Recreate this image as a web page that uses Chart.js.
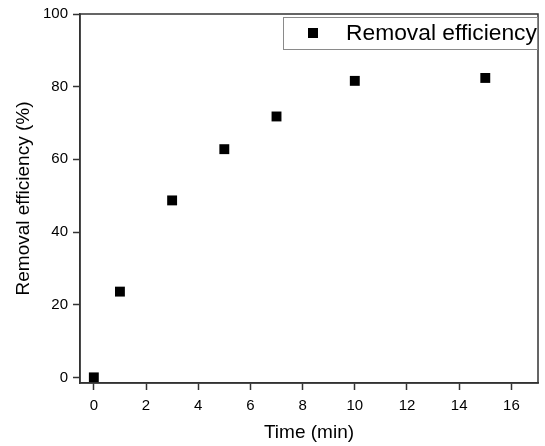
<!DOCTYPE html>
<html>
<head>
<meta charset="utf-8">
<script src="https://cdn.jsdelivr.net/npm/chart.js@4/dist/chart.umd.min.js"></script>
<style>
  html, body { margin: 0; padding: 0; background: #fff; }
  #wrap { width: 545px; height: 446px; }
</style>
</head>
<body>
<div id="wrap"><canvas id="removalChart" width="545" height="446"></canvas></div>
<script>
// 除去率 vs 時間
var timeMin = [0, 1, 3, 5, 7, 10, 15];
var removalPct = [0, 23.6, 48.7, 62.8, 71.8, 81.6, 82.4];
var xTicks = [0, 2, 4, 6, 8, 10, 12, 14, 16];
var yTicks = [0, 20, 40, 60, 80, 100];
var seriesName = "Removal efficiency";

var points = timeMin.map(function (t, i) {
  return { x: t, y: removalPct[i] };
});

var axisColor = "#333333";
var fontFam = "'Liberation Sans', Arial, sans-serif";

// frame + legend box drawn on top of the chart area
var framePlugin = {
  id: "frame",
  afterDraw: function (chart) {
    var a = chart.chartArea;
    var c = chart.ctx;
    c.save();
    c.strokeStyle = axisColor;
    c.lineWidth = 1.5;
    c.strokeRect(a.left, a.top, a.right - a.left, a.bottom - a.top);

    // legend
    c.strokeStyle = "#8a8a8a";
    c.lineWidth = 1;
    c.strokeRect(283.5, 17.5, 254, 32);
    c.fillStyle = "#000";
    c.fillRect(308, 28, 10, 10);
    c.font = "22.8px " + fontFam;
    c.textBaseline = "middle";
    c.fillText(seriesName, 346, 34);
    c.restore();
  }
};

var ctx = document.getElementById("removalChart").getContext("2d");
var removalChart = new Chart(ctx, {
  type: "scatter",
  data: {
    datasets: [
      {
        label: seriesName,
        data: points,
        pointStyle: "rect",
        pointRadius: 7,
        pointHoverRadius: 7,
        backgroundColor: "#000",
        borderColor: "#000",
        borderWidth: 0
      }
    ]
  },
  options: {
    responsive: false,
    animation: false,
    layout: { padding: { top: 13, right: 2, left: 0, bottom: 0 } },
    plugins: {
      legend: { display: false },
      tooltip: { enabled: false }
    },
    scales: {
      x: {
        type: "linear",
        min: -0.53,
        max: 17.02,
        afterBuildTicks: function (axis) {
          axis.ticks = xTicks.map(function (v) { return { value: v }; });
        },
        afterFit: function (axis) { axis.height = 63; },
        grid: {
          drawOnChartArea: false,
          drawTicks: true,
          tickLength: 7,
          tickWidth: 1.5,
          color: axisColor
        },
        border: { display: true, color: axisColor, width: 1.5 },
        ticks: {
          color: "#000",
          font: { family: fontFam, size: 15 },
          padding: 7,
          maxRotation: 0
        },
        title: {
          display: true,
          text: "Time (min)",
          color: "#000",
          font: { family: fontFam, size: 19 },
          padding: { top: 0, bottom: 2 }
        }
      },
      y: {
        type: "linear",
        min: -1.55,
        max: 100,
        afterBuildTicks: function (axis) {
          axis.ticks = yTicks.map(function (v) { return { value: v }; });
        },
        afterFit: function (axis) { axis.width = 80; },
        grid: {
          drawOnChartArea: false,
          drawTicks: true,
          tickLength: 7,
          tickWidth: 1.5,
          color: axisColor
        },
        border: { display: true, color: axisColor, width: 1.5 },
        ticks: {
          color: "#000",
          font: { family: fontFam, size: 15 },
          padding: 5
        },
        title: {
          display: true,
          text: "Removal efficiency (%)",
          color: "#000",
          font: { family: fontFam, size: 19 },
          padding: { top: 12, bottom: 0 }
        }
      }
    }
  },
  plugins: [framePlugin]
});
</script>
</body>
</html>
